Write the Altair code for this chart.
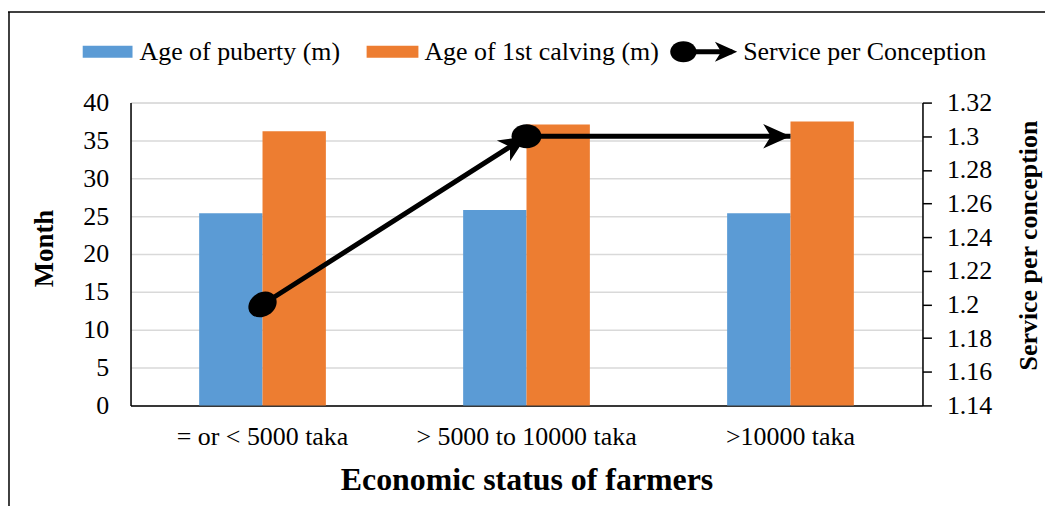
import math
import altair as alt
import pandas as pd

# ---- data ----
categories = ["= or < 5000 taka", "> 5000 to 10000 taka", ">10000 taka"]
series_names = ["Age of puberty (m)", "Age of 1st calving (m)"]
puberty = [25.4, 25.8, 25.4]
calving = [36.2, 37.1, 37.5]
line_name = "Service per Conception"
service = [1.2, 1.3, 1.3]
left_ticks = [0, 5, 10, 15, 20, 25, 30, 35, 40]
right_ticks = [1.14, 1.16, 1.18, 1.2, 1.22, 1.24, 1.26, 1.28, 1.3, 1.32]

# ---- layout / style ----
W, H = 795, 304
FONT = "Liberation Serif"
BLUE, ORANGE = "#5b9bd5", "#ed7d31"
R_MIN, R_MAX = 1.14, 1.32
ARROW = "M0,0 L-1,-0.45 L-0.72,0 L-1,0.45 Z"
ELLIPSE = "M-1,0 A1,0.8 0 1,1 1,0 A1,0.8 0 1,1 -1,0 Z"

bars_df = pd.DataFrame(
    [{"category": c, "series": series_names[0], "value": v} for c, v in zip(categories, puberty)]
    + [{"category": c, "series": series_names[1], "value": v} for c, v in zip(categories, calving)]
)

step = W / len(categories)


def seg_angle(i):
    dy = (service[i + 1] - service[i]) / (R_MAX - R_MIN) * H
    a = math.degrees(math.atan2(dy, step))
    return (360 - a) % 360


line_df = pd.DataFrame({"category": categories, "service": service})
circ_df = pd.DataFrame({
    "category": categories[:-1],
    "service": service[:-1],
    "angle": [seg_angle(i) for i in range(len(categories) - 1)],
})
arrow_df = pd.DataFrame({
    "category": categories[1:],
    "service": service[1:],
    "angle": [seg_angle(i) for i in range(len(categories) - 1)],
})

xenc = alt.X(
    "category:N",
    sort=categories,
    scale=alt.Scale(paddingInner=0.52, paddingOuter=0.26),
    axis=alt.Axis(
        title="Economic status of farmers",
        labelAngle=0,
        labelFont=FONT,
        labelFontSize=26,
        labelColor="black",
        labelPadding=18,
        labelLimit=0,
        ticks=False,
        domainColor="black",
        domainWidth=1.5,
        titleFont=FONT,
        titleFontSize=32,
        titleFontWeight="bold",
        titleColor="black",
        titleX=W / 2,
        titleY=74,
        titleBaseline="middle",
    ),
)

bars = alt.Chart(bars_df).mark_bar().encode(
    x=xenc,
    xOffset=alt.XOffset("series:N", sort=series_names,
                        scale=alt.Scale(paddingInner=0, paddingOuter=0)),
    y=alt.Y(
        "value:Q",
        scale=alt.Scale(domain=[0, 40], nice=False),
        axis=alt.Axis(
            title="Month",
            values=left_ticks,
            labelFont=FONT,
            labelFontSize=26,
            labelColor="black",
            labelPadding=22,
            labelOverlap=False,
            ticks=False,
            domainColor="black",
            domainWidth=1.5,
            gridColor="#d9d9d9",
            gridWidth=1.5,
            titleFont=FONT,
            titleFontSize=27,
            titleFontWeight="bold",
            titleColor="black",
            titleAngle=270,
            titleX=-86,
            titleY=146,
            titleBaseline="middle",
            titleAlign="center",
        ),
    ),
    color=alt.Color("series:N", scale=alt.Scale(domain=series_names, range=[BLUE, ORANGE]), legend=None),
)

yr = alt.Y(
    "service:Q",
    scale=alt.Scale(domain=[R_MIN, R_MAX], nice=False, zero=False),
    axis=alt.Axis(
        orient="right",
        title="Service per conception",
        values=right_ticks,
        tickCount=len(right_ticks),
        format="~g",
        grid=False,
        labelFont=FONT,
        labelFontSize=26,
        labelColor="black",
        labelPadding=15,
        labelOverlap=False,
        labelBound=False,
        tickColor="black",
        tickSize=9,
        tickWidth=1.5,
        domainColor="black",
        domainWidth=1.5,
        titleFont=FONT,
        titleFontSize=26,
        titleFontWeight="bold",
        titleColor="black",
        titleAngle=270,
        titleX=106,
        titleY=143,
        titleBaseline="middle",
        titleAlign="center",
    ),
)

xl = alt.X("category:N", sort=categories)

line = alt.Chart(line_df).mark_line(color="black", strokeWidth=5).encode(x=xl, y=yr)
arrows = alt.Chart(arrow_df).mark_point(shape=ARROW, filled=True, color="black", opacity=1, size=3000).encode(
    x=xl, y=yr, angle=alt.Angle("angle:Q", scale=None)
)
circles = alt.Chart(circ_df).mark_point(shape=ELLIPSE, filled=True, color="black", opacity=1, size=900).encode(
    x=xl, y=yr, angle=alt.Angle("angle:Q", scale=None)
)

right_layer = alt.layer(line, arrows, circles)

# ---- manual legend (pixel positions relative to plot area) ----
LY = -51
leg_blue = alt.Chart(pd.DataFrame({"label": [series_names[0]]})).mark_rect(color=BLUE).encode(
    x=alt.value(-48), x2=alt.value(2), y=alt.value(LY - 6), y2=alt.value(LY + 6))
leg_blue_t = alt.Chart(pd.DataFrame({"label": [series_names[0]]})).mark_text(
    font=FONT, fontSize=26, align="left", baseline="middle", color="black").encode(
    x=alt.value(9), y=alt.value(LY), text="label:N")
leg_or = alt.Chart(pd.DataFrame({"label": [series_names[1]]})).mark_rect(color=ORANGE).encode(
    x=alt.value(237), x2=alt.value(289), y=alt.value(LY - 6), y2=alt.value(LY + 6))
leg_or_t = alt.Chart(pd.DataFrame({"label": [series_names[1]]})).mark_text(
    font=FONT, fontSize=26, align="left", baseline="middle", color="black").encode(
    x=alt.value(295), y=alt.value(LY), text="label:N")
leg_line = alt.Chart(pd.DataFrame({"label": [line_name]})).mark_rule(color="black", strokeWidth=5).encode(
    x=alt.value(555), x2=alt.value(604), y=alt.value(LY))
leg_arrow = alt.Chart(pd.DataFrame({"label": [line_name]})).mark_point(
    shape=ARROW, filled=True, color="black", opacity=1, size=2000).encode(
    x=alt.value(609), y=alt.value(LY))
leg_circ = alt.Chart(pd.DataFrame({"label": [line_name]})).mark_point(
    shape=ELLIPSE, filled=True, color="black", opacity=1, size=700).encode(
    x=alt.value(555), y=alt.value(LY))
leg_line_t = alt.Chart(pd.DataFrame({"label": [line_name]})).mark_text(
    font=FONT, fontSize=26, align="left", baseline="middle", color="black").encode(
    x=alt.value(615), y=alt.value(LY), text="label:N")

# ---- outer frame ----
frame_top = alt.Chart(pd.DataFrame({"f": [0]})).mark_rule(color="black", strokeWidth=1.5).encode(
    x=alt.value(-123), x2=alt.value(W + 123), y=alt.value(-91))
frame_left = alt.Chart(pd.DataFrame({"f": [0]})).mark_rule(color="black", strokeWidth=1.5).encode(
    x=alt.value(-122), y=alt.value(-91), y2=alt.value(H + 110))

chart = alt.layer(
    bars, right_layer,
    leg_blue, leg_blue_t, leg_or, leg_or_t, leg_line, leg_arrow, leg_circ, leg_line_t,
    frame_top, frame_left,
).resolve_scale(y="independent").properties(
    width=W,
    height=H,
    padding={"left": 123, "top": 94, "right": 123, "bottom": 100},
    autosize=alt.AutoSizeParams(type="none"),
).configure_view(stroke=None).configure(background="white")

chart.save("out.html", embed_options={"renderer": "svg", "actions": False})
